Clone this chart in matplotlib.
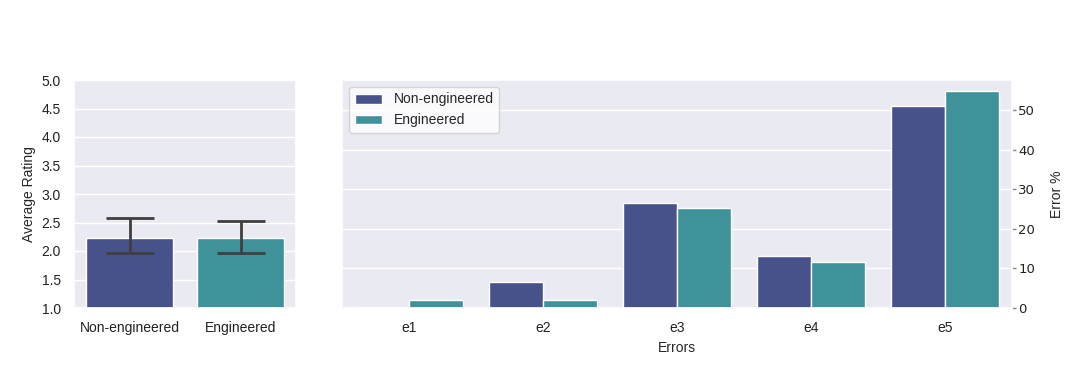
import numpy as np
import matplotlib
matplotlib.use("Agg")
import matplotlib.pyplot as plt
import seaborn as sns

# ---- data ----
groups = ["Non-engineered", "Engineered"]
avg_rating = [2.22, 2.22]
rating_low = [1.96, 1.96]
rating_high = [2.58, 2.53]

errors = ["e1", "e2", "e3", "e4", "e5"]
err_noneng = [0.0, 6.6, 26.5, 13.2, 51.1]
err_eng = [1.9, 1.9, 25.3, 11.6, 54.8]

colors = ["#48528a", "#40929a"]

sns.set_theme(style="darkgrid")
plt.rcParams['font.family'] = ['Liberation Sans', 'DejaVu Sans']

fig = plt.figure(figsize=(10.8, 3.87), dpi=100)
ax1 = fig.add_axes([74/1080, 1-308/387, 222/1080, 228/387])
ax2 = fig.add_axes([342/1080, 1-308/387, 670/1080, 228/387])

# left panel
x = np.arange(len(groups))
ax1.bar(x, np.array(avg_rating) - 1.0, bottom=1.0, width=0.79, color=colors,
        edgecolor="white", linewidth=1)
yerr = [np.array(avg_rating) - np.array(rating_low), np.array(rating_high) - np.array(avg_rating)]
ax1.errorbar(x, avg_rating, yerr=yerr, fmt="none", ecolor="#3f3f3f", elinewidth=2,
             capsize=17, capthick=2)
ax1.set_xlim(-0.5, 1.5)
ax1.set_ylim(1.0, 5.0)
ax1.set_yticks(np.arange(1.0, 5.01, 0.5))
ax1.set_yticklabels([f"{v:.1f}" for v in np.arange(1.0, 5.01, 0.5)])
ax1.set_xticks(x)
ax1.set_xticklabels(groups)
ax1.xaxis.grid(False)
ax1.set_ylabel("Average Rating", fontsize=10)
ax1.tick_params(labelsize=10, colors="#222222")

# right panel
xe = np.arange(len(errors))
w = 0.4
ax2.bar(xe - w/2, err_noneng, width=w, color=colors[0], edgecolor="white", linewidth=1,
        label="Non-engineered")
ax2.bar(xe + w/2, err_eng, width=w, color=colors[1], edgecolor="white", linewidth=1,
        label="Engineered")
ax2.set_xlim(-0.5, 4.5)
ax2.set_ylim(0, 57.6)
ax2.set_xticks(xe)
ax2.set_xticklabels(errors)
ax2.xaxis.grid(False)
ax2.yaxis.tick_right()
ax2.yaxis.set_label_position("right")
ax2.set_yticks([0, 10, 20, 30, 40, 50])
ax2.tick_params(axis="y", length=3, width=1, color="#888888", labelsize=9.5, right=True,
                pad=1.5, labelcolor="#222222")
for lab in ax2.get_yticklabels():
    lab.set_family("DejaVu Sans")
ax2.tick_params(axis="x", labelsize=10, colors="#222222")
ax2.set_ylabel("Error %", fontsize=10, labelpad=11)
ax2.set_xlabel("Errors", fontsize=10)
leg = ax2.legend(loc="upper left", fontsize=10, frameon=True)
leg.get_frame().set_facecolor("white")
leg.get_frame().set_alpha(0.8)

fig.savefig("out.png", dpi=100)
